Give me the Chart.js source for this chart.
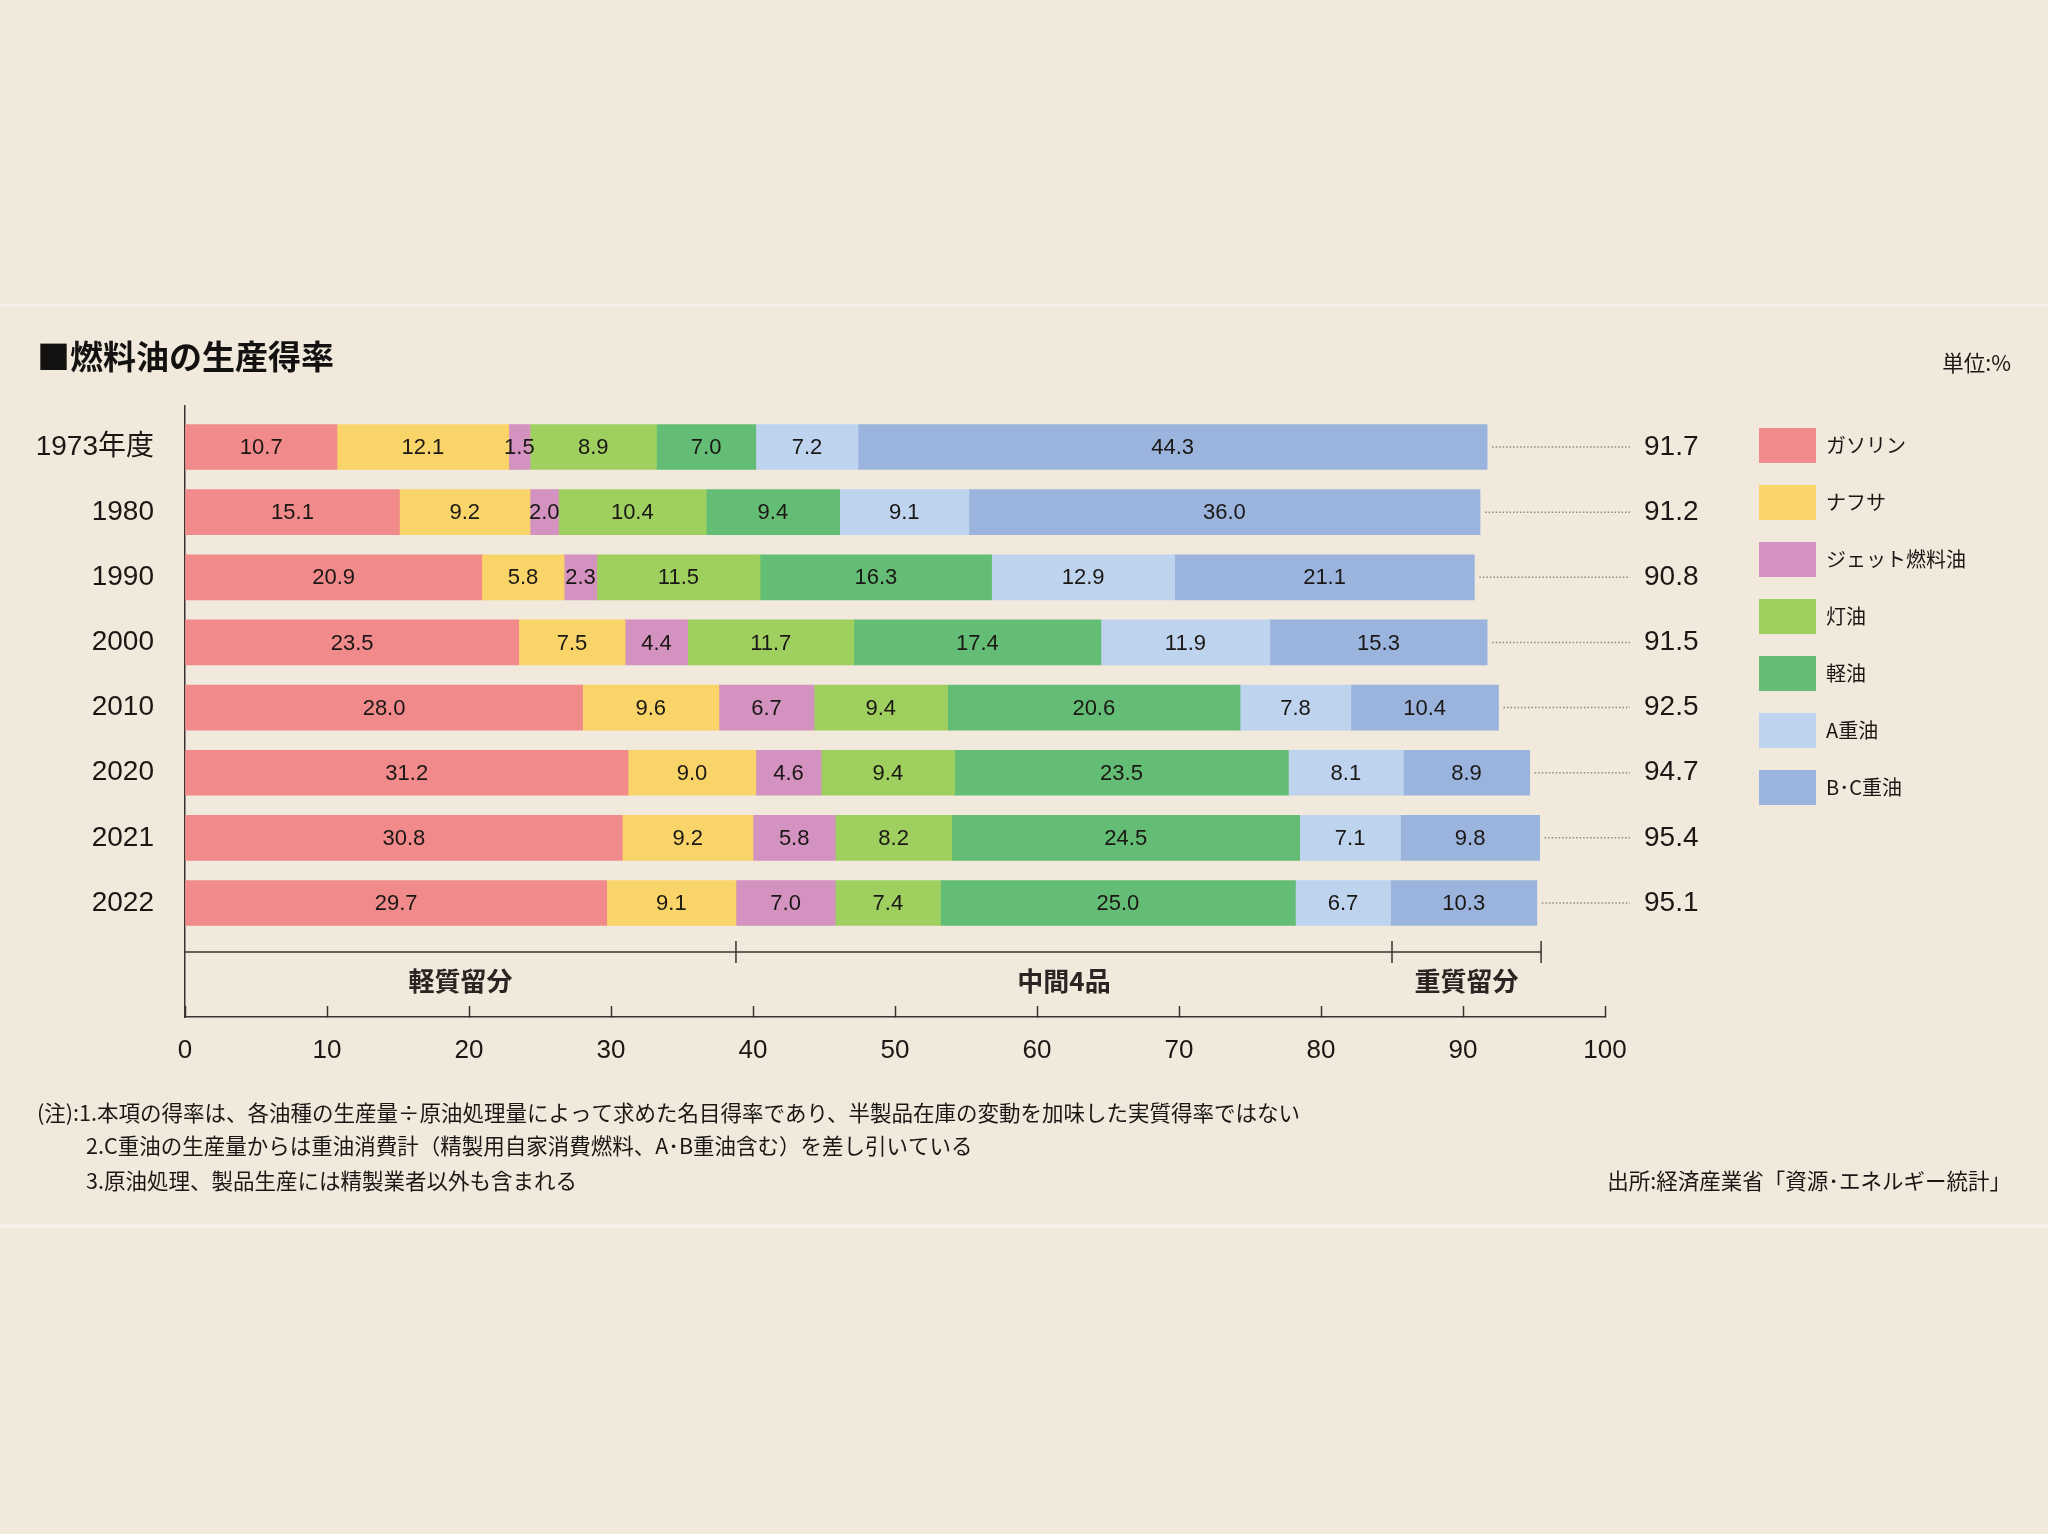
<!DOCTYPE html>
<html lang="ja">
<head>
<meta charset="utf-8">
<title>燃料油の生産得率</title>
<script src="https://cdn.jsdelivr.net/npm/chart.js@4.4.1/dist/chart.umd.min.js"></script>
<style>
  html, body { margin: 0; padding: 0; background: #f0e9dc; }
  canvas { display: block; }
</style>
</head>
<body>
<canvas id="graphique" width="2048" height="1534"></canvas>
<script>
// données (%)
var annees = ['1973年度', '1980', '1990', '2000', '2010', '2020', '2021', '2022'];
var produits = ['ガソリン', 'ナフサ', 'ジェット燃料油', '灯油', '軽油', 'A重油', 'B･C重油'];
var couleurs = ['#f08a8b', '#f9d469', '#d392bf', '#9fd05f', '#63bd74', '#bdd3ee', '#9bb4de'];

var essence  = [10.7, 15.1, 20.9, 23.5, 28.0, 31.2, 30.8, 29.7];
var naphta   = [12.1, 9.2, 5.8, 7.5, 9.6, 9.0, 9.2, 9.1];
var jet      = [1.5, 2.0, 2.3, 4.4, 6.7, 4.6, 5.8, 7.0];
var kerosene = [8.9, 10.4, 11.5, 11.7, 9.4, 9.4, 8.2, 7.4];
var gazole   = [7.0, 9.4, 16.3, 17.4, 20.6, 23.5, 24.5, 25.0];
var fioulA   = [7.2, 9.1, 12.9, 11.9, 7.8, 8.1, 7.1, 6.7];
var fioulBC  = [44.3, 36.0, 21.1, 15.3, 10.4, 8.9, 9.8, 10.3];
var totaux   = [91.7, 91.2, 90.8, 91.5, 92.5, 94.7, 95.4, 95.1];

var graduations = { min: 0, max: 100, pas: 10 };
var groupes = ['軽質留分', '中間4品', '重質留分'];
var bornesGroupes = [0, 38.8, 85, 95.5];

var notes = [
  '(注):1.本項の得率は、各油種の生産量÷原油処理量によって求めた名目得率であり、半製品在庫の変動を加味した実質得率ではない',
  '2.C重油の生産量からは重油消費計（精製用自家消費燃料、A･B重油含む）を差し引いている',
  '3.原油処理、製品生産には精製業者以外も含まれる'
];
var source = '出所:経済産業省「資源･エネルギー統計」';
var unite = '単位:%';

var series = [essence, naphta, jet, kerosene, gazole, fioulA, fioulBC];

var texte = '#1a1714';
var trait = '#3a3430';
var policeChiffres = '"Liberation Sans", "Noto Sans CJK JP", sans-serif';
var policeJp = '"Noto Sans CJK JP", sans-serif';

// rangées : 65 px entre deux barres, première barre à 41 px du haut
var debutLignes = -0.63;
var etendueLignes = 9.38;

// largeur de la légende pour caler la marge droite
var mesure = document.createElement('canvas').getContext('2d');
mesure.font = '20px ' + policeJp;
var largeurTexte = Math.max.apply(null, produits.map(function(p) { return mesure.measureText(p).width; }));
var margeDroite = 212 - largeurTexte;

function calerLignes(s) {
  s._startValue = debutLignes;
  s._valueRange = etendueLignes;
}

var fond = {
  id: 'fond',
  beforeDraw: function(chart) {
    var ctx = chart.ctx;
    ctx.save();
    ctx.fillStyle = '#f0e9dc';
    ctx.fillRect(0, 0, chart.width, chart.height);
    ctx.strokeStyle = '#f7f2e9';
    ctx.lineWidth = 3;
    ctx.beginPath();
    ctx.moveTo(0, 305); ctx.lineTo(chart.width, 305);
    ctx.moveTo(0, 1226); ctx.lineTo(chart.width, 1226);
    ctx.stroke();
    ctx.restore();
  }
};

var etiquettes = {
  id: 'etiquettes',
  afterDatasetsDraw: function(chart) {
    var ctx = chart.ctx;
    ctx.save();
    ctx.font = '22px ' + policeChiffres;
    ctx.fillStyle = texte;
    ctx.textAlign = 'center';
    ctx.textBaseline = 'middle';
    chart.data.datasets.forEach(function(ds, i) {
      chart.getDatasetMeta(i).data.forEach(function(barre, j) {
        ctx.fillText(ds.data[j].toFixed(1), (barre.x + barre.base) / 2, barre.y + 1);
      });
    });
    // pointillés jusqu'aux totaux
    var derniere = chart.getDatasetMeta(chart.data.datasets.length - 1).data;
    var fin = chart.scales.y2.left + 25;
    ctx.strokeStyle = '#8f8a84';
    ctx.lineWidth = 1.5;
    ctx.setLineDash([1.5, 2]);
    derniere.forEach(function(barre) {
      ctx.beginPath();
      ctx.moveTo(barre.x + 5, barre.y);
      ctx.lineTo(fin, barre.y);
      ctx.stroke();
    });
    ctx.restore();
  }
};

var accolade = {
  id: 'accolade',
  afterDraw: function(chart) {
    var ctx = chart.ctx;
    var x = chart.scales.x;
    var bas = chart.chartArea.bottom;
    var yLigne = bas - 65, yTexte = bas - 36;
    ctx.save();
    ctx.strokeStyle = trait;
    ctx.lineWidth = 1.5;
    ctx.beginPath();
    ctx.moveTo(x.getPixelForValue(bornesGroupes[0]), yLigne);
    ctx.lineTo(x.getPixelForValue(bornesGroupes[bornesGroupes.length - 1]), yLigne);
    for (var i = 1; i < bornesGroupes.length; i++) {
      var px = x.getPixelForValue(bornesGroupes[i]);
      ctx.moveTo(px, yLigne - 11);
      ctx.lineTo(px, yLigne + 11);
    }
    ctx.stroke();
    ctx.font = 'bold 26px ' + policeJp;
    ctx.fillStyle = '#2a2522';
    ctx.textAlign = 'center';
    ctx.textBaseline = 'middle';
    groupes.forEach(function(g, k) {
      ctx.fillText(g, x.getPixelForValue((bornesGroupes[k] + bornesGroupes[k + 1]) / 2), yTexte);
    });

    // unité, notes et source
    ctx.font = '21.5px ' + policeJp;
    ctx.fillStyle = texte;
    ctx.textAlign = 'right';
    ctx.fillText(unite, 2011, 363);
    ctx.fillText(source, 2011, 1181);
    ctx.textAlign = 'left';
    ctx.fillText(notes[0], 37, 1113);
    ctx.fillText(notes[1], 86, 1146);
    ctx.fillText(notes[2], 86, 1181);
    ctx.restore();
  }
};

document.addEventListener('DOMContentLoaded', function() {
  var ctx = document.getElementById('graphique').getContext('2d');
  var chart = new Chart(ctx, {
    type: 'bar',
    data: {
      labels: annees,
      datasets: series.map(function(d, i) {
        return { label: produits[i], data: d, backgroundColor: couleurs[i], borderWidth: 0, barThickness: 45 };
      })
    },
    options: {
      indexAxis: 'y',
      responsive: false,
      animation: false,
      layout: { padding: { left: 37, right: margeDroite, top: 0, bottom: 0 } },
      scales: {
        x: {
          stacked: true,
          min: graduations.min,
          max: graduations.max,
          afterFit: function(s) { s.height = 517; },
          grid: { drawOnChartArea: false, tickLength: -11, tickColor: trait, tickWidth: 1.5 },
          border: { color: trait, width: 1.5 },
          ticks: { stepSize: graduations.pas, padding: 29, maxRotation: 0, color: texte, font: { size: 26, family: policeChiffres } }
        },
        y: {
          stacked: true,
          afterBuildTicks: calerLignes,
          afterFit: function(s) { s.width = 148; },
          grid: { display: false, drawTicks: false },
          border: { display: true, color: trait, width: 1.5 },
          ticks: { padding: 31, color: texte, font: { size: 28, family: policeChiffres } }
        },
        y2: {
          type: 'category',
          position: 'right',
          labels: totaux.map(function(v) { return v.toFixed(1); }),
          afterBuildTicks: calerLignes,
          afterFit: function(s) { s.width = 132; },
          grid: { display: false, drawTicks: false },
          border: { display: false },
          ticks: { padding: 39, color: texte, font: { size: 28, family: policeChiffres } }
        }
      },
      plugins: {
        tooltip: { enabled: false },
        title: {
          display: true,
          text: '■燃料油の生産得率',
          align: 'start',
          color: '#141210',
          font: { size: 33, weight: 'bold', family: policeJp },
          padding: { top: 337, bottom: 29.4 }
        },
        legend: {
          position: 'right',
          align: 'start',
          fullSize: false,
          labels: { boxWidth: 57, boxHeight: 35, padding: 22, color: texte, font: { size: 20, family: policeJp } }
        }
      }
    },
    plugins: [fond, etiquettes, accolade]
  });
});
</script>
</body>
</html>
